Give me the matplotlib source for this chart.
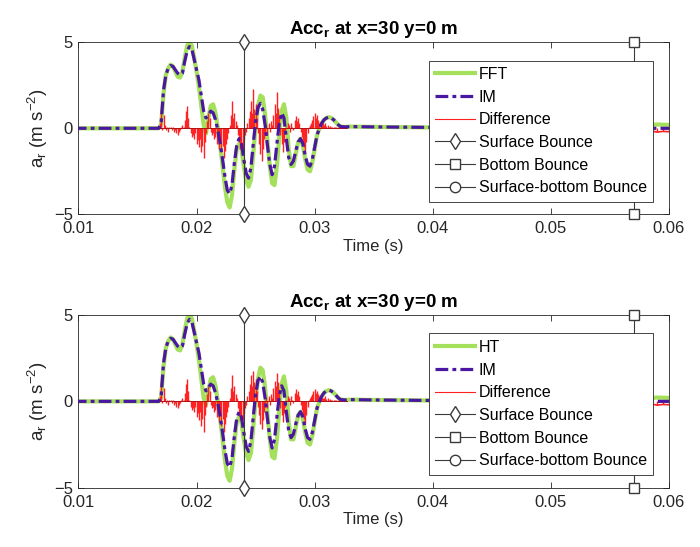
import numpy as np
import matplotlib
matplotlib.use("Agg")
from matplotlib import pyplot as plt

plt.rcParams['font.family'] = ['Liberation Sans', 'DejaVu Sans']
plt.rcParams['mathtext.fontset'] = 'custom'
plt.rcParams['mathtext.rm'] = 'Liberation Sans'
plt.rcParams['mathtext.it'] = 'Liberation Sans:italic'
plt.rcParams['mathtext.bf'] = 'Liberation Sans:bold'

# main waveform samples, 0.0160 .. 0.0322 s every 0.0002 s
t_wave = np.round(np.arange(160, 323, 2) * 1e-4, 4)
im_vals = [0, 0, 0, 0, 0, 0.3, 2.2, 3.1, 3.5, 3.65,
           3.6, 3.4, 3.2, 3.1, 3.2, 3.9, 4.5, 4.75, 4.6, 4.0,
           3.4, 2.8, 1.9, 1.0, 0.6, 0.8, 1.0, 0.9, 0.5, -0.1,
           -0.9, -1.8, -2.8, -3.6, -3.8, -3.3, -2.0, -1.0, -0.6, -0.9,
           -1.8, -2.6, -2.9, -2.3, -0.9, 0.4, 1.2, 1.45, 1.1, 0.2,
           -1.0, -2.1, -2.7, -2.2, -0.9, 0.3, 0.9, 0.6, -0.6, -1.7,
           -2.1, -1.9, -1.3, -0.8, -0.6, -0.9, -1.6, -2.1, -2.2, -1.8,
           -1.1, -0.4, 0.0, 0.3, 0.5, 0.6, 0.65, 0.6, 0.5, 0.35,
           0.2, 0.1]
fft_vals = [0, 0, 0, 0, 0, 0.2, 2.0, 3.1, 3.5, 3.7,
            3.6, 3.3, 3.0, 2.95, 3.3, 4.1, 4.8, 5.0, 4.8, 4.1,
            3.3, 2.4, 1.3, 0.2, -0.3, 0.6, 1.3, 1.4, 0.9, 0.0,
            -1.0, -2.2, -3.4, -4.3, -4.6, -3.9, -2.4, -1.2, -0.9, -1.2,
            -2.2, -3.0, -3.4, -3.0, -1.5, 0.1, 1.3, 1.9, 1.8, 0.8,
            -0.7, -2.2, -3.2, -3.3, -2.2, -0.5, 1.0, 1.4, 0.6, -1.2,
            -2.2, -2.2, -1.5, -0.8, -0.6, -1.0, -1.8, -2.4, -2.5, -2.0,
            -1.2, -0.4, 0.0, 0.3, 0.5, 0.6, 0.65, 0.6, 0.5, 0.35,
            0.2, 0.1]
ht_vals = [0, 0, 0, 0, 0, 0.2, 2.0, 3.1, 3.5, 3.7,
           3.6, 3.3, 3.0, 2.95, 3.3, 4.1, 4.8, 5.0, 4.8, 4.1,
           3.3, 2.4, 1.3, 0.2, -0.2, 0.6, 1.3, 1.4, 0.9, 0.0,
           -1.0, -2.2, -3.4, -4.3, -4.6, -3.9, -2.4, -1.2, -0.9, -1.2,
           -2.2, -3.0, -3.4, -3.0, -1.5, 0.1, 1.3, 1.95, 1.8, 0.8,
           -0.7, -2.2, -3.2, -3.3, -2.2, -0.5, 1.0, 1.45, 0.6, -1.2,
           -2.2, -2.2, -1.5, -0.8, -0.6, -1.0, -1.8, -2.4, -2.5, -2.0,
           -1.2, -0.4, 0.0, 0.3, 0.5, 0.6, 0.65, 0.6, 0.5, 0.35,
           0.2, 0.1]

# quiet parts before and after the arrival
t_head = [0.0, 0.0158]
head_vals = [0.0, 0.0]
t_tail = [0.0326, 0.033, 0.035, 0.04, 0.045, 0.055, 0.0585, 0.059, 0.06]
im_tail = [0.08, 0.1, 0.08, 0.05, 0.02, 0.0, 0.0, 0.0, 0.0]
fft_tail = [0.08, 0.1, 0.08, 0.05, 0.02, 0.05, 0.2, 0.22, 0.2]

# difference, 0.0168 .. 0.0327 s every 0.0001 s
t_diff = np.round(np.arange(168, 328) * 1e-4, 4)
diff_fft = [0, 0.3, 1.1, -0.1, 0.8, 0.2, -0.1, 0.1, -0.2, 0.1,
            0.1, -0.1, 0.1, -0.2, -0.1, -0.3, -0.4, -0.2, -0.1, 0.1,
            0.2, 0.1, 0.5, 1.0, 1.27, 0.6, 0.1, -0.3, -0.5, -0.4,
            -0.6, -0.3, -0.9, -0.7, -1.1, -0.6, -1.4, -1.0, -1.75, -0.8,
            -0.3, 0.4, 0.9, 0.6, -0.2, -0.4, -0.3, -0.6, -0.5, -0.9,
            -0.7, -1.2, -0.8, -1.4, -1.0, -1.75, -1.3, -0.9, -0.6, -0.3,
            0.2, 0.8, 1.56, 0.6, 0.9, 0.4, 0.2, -0.4, -0.8, -1.2,
            -1.0, -1.2, -0.7, -0.4, -0.2, 0.3, 0.6, 1.0, 1.6, 0.9,
            2.3, 1.1, 1.4, 0.6, -0.3, -0.9, -1.5, -1.9, -1.2, -0.6,
            -0.3, 0.2, -0.4, 0.3, -0.2, 0.4, 0.2, 0.8, 1.4, 0.9,
            2.1, 1.2, 0.6, -0.4, -0.9, -1.4, -0.8, -0.3, 0.1, 0.3,
            0.2, -0.2, 0.3, 0.1, -0.1, 0.5, 0.7, 0.4, 0.6, 0.3,
            -0.2, -0.5, -0.9, -1.1, -1.4, -0.8, -0.3, 0.1, 0.2, 0.3,
            0.5, 0.7, 0.9, 0.6, 0.8, 0.5, 0.3, 0.4, 0.2, 0.3,
            0.2, 0.3, 0.15, 0.2, 0.1, 0.15, 0.1, 0.05, 0.1, 0.05,
            0.05, 0.03, 0.05, 0.02, 0, 0, 0, 0, 0, 0]
diff_ht = [0, 0.3, 1.1, -0.1, 0.8, 0.2, -0.1, 0.1, -0.2, 0.1,
           0.1, -0.1, 0.1, -0.2, -0.1, -0.3, -0.4, -0.2, -0.1, 0.1,
           0.2, 0.1, 0.5, 1.0, 1.27, 0.6, 0.1, -0.3, -0.5, -0.4,
           -0.6, -0.3, -0.9, -0.7, -1.1, -0.6, -1.4, -1.0, -1.75, -0.8,
           -0.3, 0.4, 0.9, 0.6, -0.2, -0.4, -0.3, -0.6, -0.5, -0.9,
           -0.7, -1.2, -0.8, -1.4, -1.0, -1.75, -1.3, -0.9, -0.6, -0.3,
           0.2, 0.8, 1.5, 0.6, 0.9, 0.4, 0.2, -0.4, -0.8, -1.1,
           -1.0, -1.1, -0.7, -0.4, -0.2, 0.3, 0.6, 1.0, 1.5, 0.9,
           1.75, 1.1, 1.3, 0.6, -0.3, -0.8, -1.3, -1.6, -1.1, -0.6,
           -0.3, 0.2, -0.4, 0.3, -0.2, 0.4, 0.2, 0.8, 1.2, 0.9,
           1.65, 1.1, 0.6, -0.4, -0.8, -1.2, -0.7, -0.3, 0.1, 0.3,
           0.2, -0.2, 0.3, 0.1, -0.1, 0.5, 0.7, 0.4, 0.6, 0.3,
           -0.2, -0.5, -0.8, -1.0, -1.3, -0.8, -0.3, 0.1, 0.2, 0.3,
           0.4, 0.6, 0.7, 0.5, 0.6, 0.4, 0.3, 0.3, 0.2, 0.2,
           0.2, 0.3, 0.15, 0.2, 0.1, 0.15, 0.1, 0.05, 0.1, 0.05,
           0.05, 0.03, 0.05, 0.02, 0, 0, 0, 0, 0, 0]
t_diff_end = [0.0585, 0.059, 0.0595, 0.06]
diff_end = [-0.15, -0.22, -0.18, -0.2]

surface_bounce = 0.024
bottom_bounce = 0.057

green = '#a4e05c'
purple = '#4a18a0'
red = '#ff2222'
grey = '#3a3a3a'
ink = '#262626'


def panel(ax, name, vals, diff):
    t = np.concatenate([t_head, t_wave, t_tail])
    ref = np.concatenate([head_vals, vals, fft_tail])
    im = np.concatenate([head_vals, im_vals, im_tail])
    ax.plot(t, ref, color=green, lw=3.0, label=name, zorder=2)
    ax.plot(t, im, color=purple, lw=2.3, dashes=(4, 1.3, 1.2, 1.3), label='IM', zorder=4)
    # difference drawn as dense spikes from zero, like the sampled signal
    ax.vlines(t_diff, 0, diff, color=red, lw=1.0, zorder=3)
    ax.plot(t_diff, np.zeros(len(t_diff)), color='#b01010', lw=0.7, zorder=3)
    ax.vlines(t_diff_end, 0, diff_end, color=red, lw=1.0, zorder=3)
    ax.plot(t_diff_end, diff_end, color=red, lw=1.2, zorder=3)
    ax.plot([np.nan], [np.nan], color=red, lw=0.8, label='Difference')
    ax.plot([surface_bounce, surface_bounce], [-5, 5], color=grey, lw=0.8, marker='d',
            ms=8, mfc='white', mec=grey, clip_on=False, zorder=5, label='Surface Bounce')
    ax.plot([bottom_bounce, bottom_bounce], [-5, 5], color=grey, lw=0.8, marker='s',
            ms=6.5, mfc='white', mec=grey, clip_on=False, zorder=5, label='Bottom Bounce')
    ax.plot([np.nan], [np.nan], color=grey, lw=0.8, marker='o', ms=7.5, mfc='white',
            mec=grey, label='Surface-bottom Bounce')
    ax.set_xlim(0.01, 0.06)
    ax.set_ylim(-5, 5)
    ax.set_xticks([0.01, 0.02, 0.03, 0.04, 0.05, 0.06])
    ax.set_xticklabels(['0.01', '0.02', '0.03', '0.04', '0.05', '0.06'])
    ax.set_yticks([-5, 0, 5])
    ax.tick_params(direction='in', length=4, width=0.6, top=True, right=True,
                   labelsize=12, colors=ink)
    ax.tick_params(axis='x', pad=5)
    ax.tick_params(axis='y', pad=4)
    for s in ax.spines.values():
        s.set_color(ink)
        s.set_linewidth(0.6)
    ax.set_title(r'Acc$_{\mathbf{r}}$ at x=30 y=0 m', fontsize=13.5, fontweight='bold', pad=6)
    ax.set_xlabel('Time (s)', fontsize=12, color=ink, labelpad=2)
    ax.set_ylabel(r'a$_{\mathrm{r}}$ (m s$^{-2}$)', fontsize=13.5, color=ink, labelpad=3)
    leg = ax.legend(loc='upper right', bbox_to_anchor=(0.9735, 0.893), fontsize=11.5,
                    frameon=True, fancybox=False, edgecolor=ink, framealpha=1,
                    borderpad=0.4, labelspacing=0.48, handlelength=2.5, handletextpad=0.25,
                    borderaxespad=0)
    leg.get_frame().set_linewidth(0.6)
    leg.set_zorder(10)


fig = plt.figure(figsize=(7, 5.47), dpi=100)
ax1 = fig.add_axes([0.1121, 0.6082, 0.8436, 0.3145])
ax2 = fig.add_axes([0.1121, 0.1084, 0.8436, 0.3157])
panel(ax1, 'FFT', fft_vals, diff_fft)
panel(ax2, 'HT', ht_vals, diff_ht)

fig.savefig('out.png', dpi=100)
